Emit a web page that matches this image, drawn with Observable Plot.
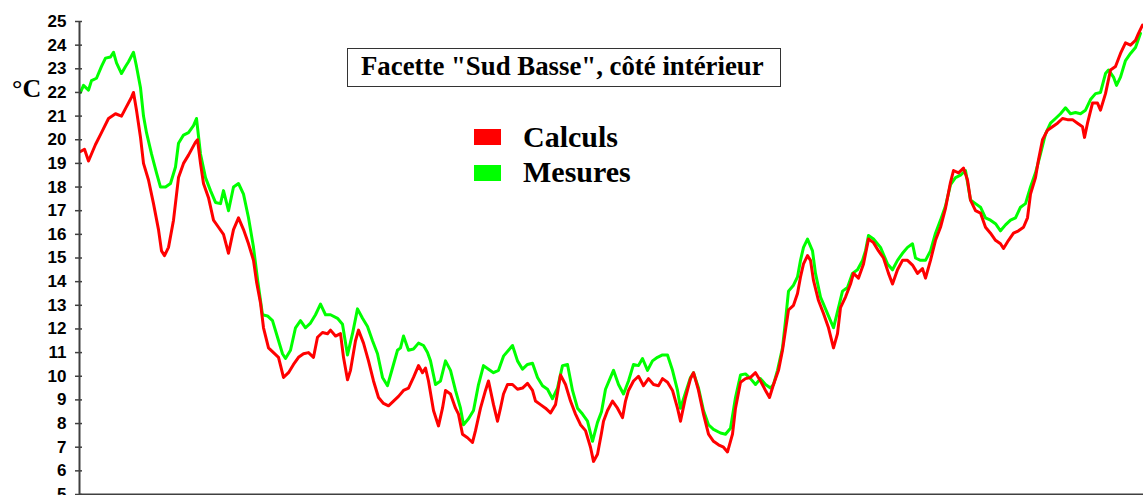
<!DOCTYPE html>
<html>
<head>
<meta charset="utf-8">
<script src="https://cdn.jsdelivr.net/npm/d3@7"></script>
<script src="https://cdn.jsdelivr.net/npm/@observablehq/plot@0.6"></script>
<style>
  html, body { margin: 0; padding: 0; background: #ffffff; }
  #chart { position: relative; width: 1143px; height: 495px; overflow: hidden; }
</style>
</head>
<body>
<div id="chart"></div>
<script>
// Time steps (arbitrary sample index) and temperatures (°C)
const tCalculs = [1,5,9,16,22,29,36,42,47,52,54,57,61,64,69,74,79,82,85,89,94,99,104,109,116,118,121,124,129,134,139,144,149,154,159,164,169,174,177,181,184,189,194,199,204,209,214,219,224,229,234,238,243,248,251,256,261,264,268,271,276,279,284,289,294,299,304,309,314,319,324,329,334,339,343,346,349,354,359,363,366,371,376,379,383,388,393,396,401,406,409,414,418,421,424,428,433,438,443,448,453,456,461,466,471,476,481,486,491,496,501,506,511,514,518,522,524,528,533,538,543,546,549,554,559,564,569,574,579,583,588,593,598,601,606,611,614,619,624,629,634,639,644,648,653,656,661,666,671,676,681,686,690,694,699,703,706,709,714,718,721,724,728,731,734,739,744,749,754,758,761,766,771,774,779,784,789,794,799,804,809,813,818,823,828,833,838,843,846,851,856,861,866,871,874,879,884,888,891,896,901,906,911,916,921,924,929,934,939,944,948,951,956,959,963,968,973,978,983,988,993,998,1003,1005,1008,1013,1018,1021,1026,1031,1036,1041,1046,1051,1056,1059,1063];
const vCalculs = [19.5,19.6,19.1,19.8,20.3,20.9,21.1,21.0,21.4,21.8,22.0,21.25,20.1,19.0,18.3,17.3,16.2,15.3,15.1,15.45,16.6,18.4,19.0,19.35,19.9,20.0,19.0,18.15,17.55,16.6,16.3,16.0,15.2,16.2,16.7,16.2,15.6,14.9,14.0,13.1,12.05,11.2,11.0,10.8,9.95,10.15,10.5,10.8,10.95,11.0,10.8,11.65,11.85,11.8,11.95,11.7,11.8,10.8,9.85,10.25,11.5,11.95,11.4,10.65,9.8,9.1,8.85,8.75,8.95,9.15,9.4,9.5,9.95,10.45,10.15,10.35,9.8,8.55,7.9,8.65,9.4,9.25,8.65,8.4,7.55,7.4,7.2,7.7,8.65,9.4,9.8,8.8,8.1,8.65,9.25,9.65,9.65,9.45,9.5,9.7,9.4,8.95,8.8,8.65,8.45,8.8,10.05,9.65,8.95,8.4,7.95,7.7,7.0,6.4,6.7,7.6,8.1,8.55,8.95,8.65,8.25,8.95,9.4,9.8,10.0,9.6,9.9,9.65,9.6,9.9,9.75,9.4,8.65,8.1,9.1,9.9,10.15,9.4,8.4,7.55,7.25,7.1,7.0,6.8,7.55,8.65,9.75,9.9,9.95,10.15,9.8,9.4,9.1,9.65,10.25,11.1,11.95,12.8,13.0,13.5,14.2,14.75,15.1,14.9,14.05,13.2,12.65,12.05,11.2,11.8,12.9,13.35,13.9,14.35,14.15,14.75,15.8,15.65,15.3,15.0,14.35,13.9,14.5,14.9,14.9,14.7,14.35,14.55,14.15,14.9,15.75,16.3,17.1,18.2,18.7,18.6,18.8,18.3,17.45,17.0,16.9,16.3,16.05,15.75,15.6,15.4,15.75,16.05,16.15,16.3,16.7,17.7,18.4,19.15,20.0,20.4,20.55,20.7,20.9,20.85,20.85,20.7,20.55,20.1,20.7,21.55,21.55,21.25,21.95,22.95,23.1,23.65,24.1,24.0,24.2,24.5,24.85];

const tMesures = [1,4,9,12,17,22,26,31,34,37,42,46,49,54,57,61,64,67,72,77,81,86,91,96,99,104,109,114,117,121,126,131,136,141,144,149,154,159,164,169,174,178,183,188,193,198,203,206,211,216,221,226,231,236,241,246,251,258,263,268,273,278,283,288,293,298,303,308,313,318,321,324,329,334,339,344,348,351,356,361,366,371,376,381,384,389,394,399,404,409,414,419,424,429,433,438,443,448,453,458,463,468,473,478,483,488,493,498,503,508,513,518,522,526,531,534,539,544,549,554,559,563,568,573,578,583,588,593,598,601,606,611,614,619,624,629,634,641,646,651,656,661,666,671,676,681,686,691,694,698,703,706,709,714,718,721,724,728,733,736,741,748,754,759,763,768,773,778,783,786,789,794,801,808,813,818,823,828,833,836,841,846,851,856,861,866,871,876,881,886,891,896,901,906,911,916,921,926,931,936,941,946,951,956,961,966,971,976,981,986,991,996,1001,1006,1011,1016,1021,1026,1029,1034,1037,1041,1046,1051,1056,1061];
const vMesures = [22.0,22.3,22.1,22.5,22.6,23.1,23.45,23.5,23.7,23.25,22.8,23.1,23.3,23.7,23.1,22.2,21.0,20.3,19.4,18.6,18.0,18.0,18.15,18.85,19.85,20.2,20.3,20.6,20.9,19.4,18.4,17.85,17.35,17.3,17.85,17.0,18.0,18.15,17.7,16.7,15.45,14.1,12.6,12.55,12.35,11.65,10.95,10.75,11.1,12.05,12.35,12.05,12.25,12.6,13.05,12.6,12.6,12.45,12.2,10.9,11.8,12.85,12.45,12.1,11.5,10.95,9.95,9.6,10.35,11.1,11.2,11.7,11.1,11.15,11.4,11.3,11.0,10.65,9.65,9.8,10.65,10.25,9.4,8.65,7.95,8.2,8.55,9.65,10.45,10.3,10.15,10.25,10.85,11.1,11.3,10.65,10.3,10.5,10.55,9.95,9.6,9.45,9.05,9.5,10.45,10.5,9.4,8.65,8.4,8.1,7.25,8.05,8.5,9.45,9.95,10.25,9.65,9.25,9.8,10.5,10.45,10.75,10.25,10.65,10.8,10.9,10.9,10.25,9.4,8.65,9.3,9.95,10.15,9.5,8.55,7.95,7.75,7.6,7.55,7.8,9.1,10.05,10.1,9.9,9.65,9.9,9.65,9.5,9.65,10.25,11.2,12.35,13.6,13.85,14.2,14.9,15.45,15.8,15.3,14.35,13.35,12.65,12.05,12.9,13.6,13.75,14.35,14.5,14.9,15.3,15.95,15.8,15.45,14.75,14.5,14.9,15.2,15.45,15.6,15.0,14.9,14.9,15.3,16.05,16.6,17.2,18.1,18.4,18.5,18.7,17.45,17.3,17.15,16.7,16.6,16.45,16.15,16.4,16.6,16.7,17.15,17.3,18.0,18.6,19.4,20.25,20.7,20.9,21.1,21.35,21.1,21.15,21.1,21.25,21.7,21.95,22.0,22.8,22.95,22.65,22.3,22.65,23.35,23.65,23.9,24.5];

const yTicks = [5,6,7,8,9,10,11,12,13,14,15,16,17,18,19,20,21,22,23,24,25];
const seriesNames = ["Calculs", "Mesures"];
const seriesColors = ["#ff0000", "#00ff00"];
const titleText = "Facette \"Sud Basse\", côté intérieur";
const unitText = "°C";

const calculs = tCalculs.map((t, i) => ({t, v: vCalculs[i]}));
const mesures = tMesures.map((t, i) => ({t, v: vMesures[i]}));

const axisColor = "#404040";

const plot = Plot.plot({
  width: 1143,
  height: 495,
  marginLeft: 79,
  marginRight: 0,
  marginTop: 21,
  marginBottom: 1,
  style: {fontFamily: "'Liberation Sans', Arial, sans-serif", background: "#ffffff", color: "#000000", overflow: "visible"},
  x: {domain: [0, 1064], axis: null},
  y: {domain: [5, 25], axis: null},
  marks: [
    Plot.line(mesures, {x: "t", y: "v", stroke: seriesColors[1], strokeWidth: 3, strokeLinejoin: "round"}),
    Plot.line(calculs, {x: "t", y: "v", stroke: seriesColors[0], strokeWidth: 3, strokeLinejoin: "round"}),
    Plot.ruleX([0], {stroke: axisColor, strokeWidth: 2}),
    Plot.ruleY([5], {stroke: axisColor, strokeWidth: 2}),
    Plot.axisY({ticks: yTicks, tickFormat: d => String(d), tickSize: 7, tickPadding: 9, dx: 3, stroke: axisColor, strokeWidth: 1.5, fontSize: 17, fontWeight: "bold", fill: "#000000", label: null})
  ]
});

const container = document.getElementById("chart");
container.appendChild(plot);

const svg = d3.select(plot);
const serif = "'Liberation Serif', 'Times New Roman', serif";

// unit label
svg.append("text").attr("x", 12).attr("y", 97).attr("text-anchor", "start")
  .attr("font-family", serif).attr("font-size", 26).attr("font-weight", "bold")
  .attr("fill", "#000").text(unitText);

// title box
svg.append("rect").attr("x", 347.5).attr("y", 48.5).attr("width", 433).attr("height", 38)
  .attr("fill", "#ffffff").attr("stroke", "#333333").attr("stroke-width", 1);
svg.append("text").attr("x", 361).attr("y", 75).attr("text-anchor", "start")
  .attr("font-family", serif).attr("font-size", 26.8).attr("font-weight", "bold")
  .attr("fill", "#000").text(titleText);

// legend
seriesNames.forEach((name, i) => {
  svg.append("rect").attr("x", 474).attr("y", 129 + i * 36).attr("width", 27).attr("height", 16)
    .attr("fill", seriesColors[i]);
  svg.append("text").attr("x", 523).attr("y", 147 + i * 35).attr("text-anchor", "start")
    .attr("font-family", serif).attr("font-size", 30).attr("font-weight", "bold")
    .attr("fill", "#000").text(name);
});
</script>
</body>
</html>
